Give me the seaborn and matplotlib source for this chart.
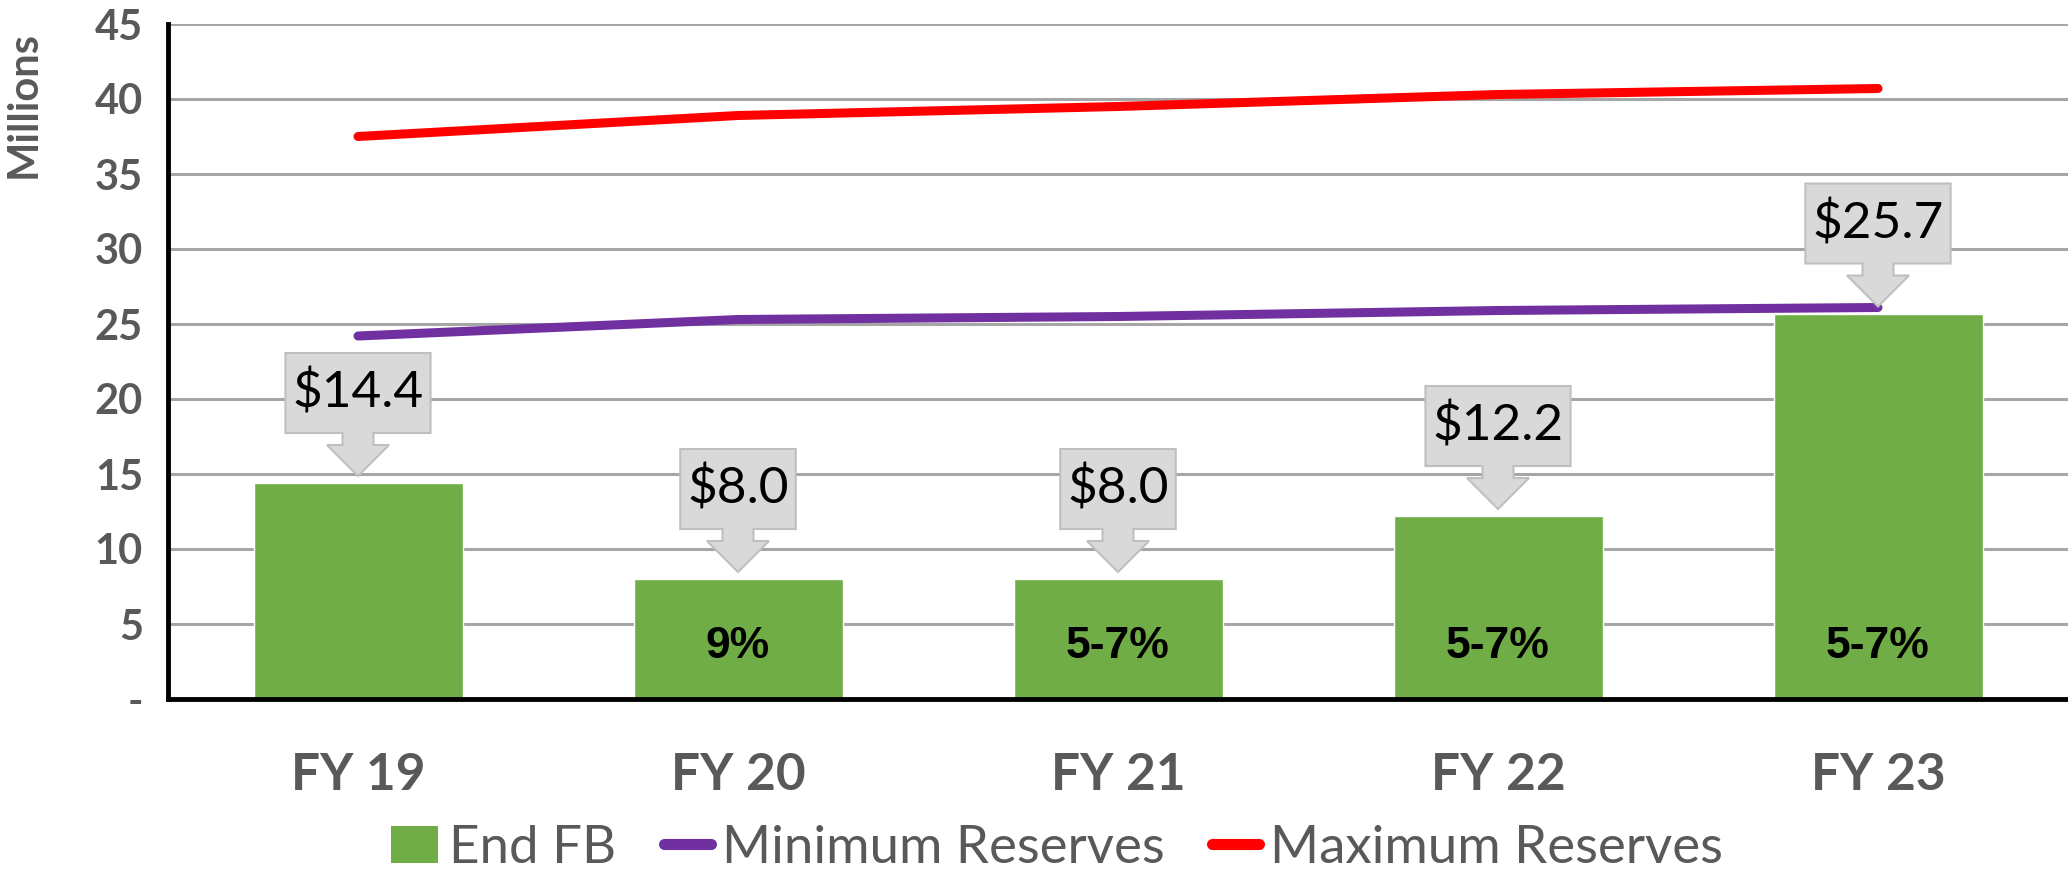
import matplotlib
matplotlib.use("Agg")
import matplotlib.pyplot as plt
import numpy as np
import pandas as pd
import seaborn as sns
from matplotlib.patches import Polygon, Patch
from matplotlib.lines import Line2D

years = ["FY 19", "FY 20", "FY 21", "FY 22", "FY 23"]
end_fb = [14.4, 8.0, 8.0, 12.2, 25.7]
min_reserves = [24.2, 25.3, 25.5, 25.9, 26.1]
max_reserves = [37.5, 38.9, 39.5, 40.3, 40.7]
fb_labels = ["$14.4", "$8.0", "$8.0", "$12.2", "$25.7"]
pct_labels = ["", "9%", "5-7%", "5-7%", "5-7%"]
y_ticks = [0, 5, 10, 15, 20, 25, 30, 35, 40, 45]
y_ticklabels = ["-", "5", "10", "15", "20", "25", "30", "35", "40", "45"]

GREEN = "#70AD47"
PURPLE = "#7030A0"
RED = "#FF0000"
GREY_TXT = "#595959"

sns.set_style("white")
plt.rcParams["font.family"] = ["Lato", "DejaVu Sans"]

df = pd.DataFrame({"year": years, "fb": end_fb,
                   "min": min_reserves, "max": max_reserves})

fig = plt.figure(figsize=(20.68, 8.69), dpi=100)
ax = fig.add_axes([168 / 2068, 1 - 699 / 869, 1 - 168 / 2068, 675 / 869])

sns.barplot(data=df, x="year", y="fb", color=GREEN, saturation=1,
            width=0.55, ax=ax, zorder=2)
sns.lineplot(data=df, x="year", y="min", color=PURPLE, linewidth=6.5,
             solid_capstyle="round", ax=ax, zorder=3)
sns.lineplot(data=df, x="year", y="max", color=RED, linewidth=6.5,
             solid_capstyle="round", ax=ax, zorder=3)

ax.set_xlim(-0.5, 4.5)
ax.set_ylim(0, 45)
ax.set_yticks(y_ticks)
ax.set_yticklabels(y_ticklabels)
ax.grid(axis="y", color="#A6A6A6", linewidth=2.2, zorder=0)
ax.set_axisbelow(True)
for s in ["top", "right"]:
    ax.spines[s].set_visible(False)
for s in ["left", "bottom"]:
    ax.spines[s].set_color("black")
    ax.spines[s].set_linewidth(3.5)
ax.tick_params(axis="both", length=0)
ax.tick_params(axis="y", labelsize=30, labelcolor=GREY_TXT, pad=18)
ax.tick_params(axis="x", labelsize=37, labelcolor=GREY_TXT, pad=38)
for lab in ax.get_xticklabels() + ax.get_yticklabels():
    lab.set_fontweight("bold")
ax.set_xlabel("")
ax.set_ylabel("")
fig.text(24 / 2068, 1 - 105 / 869, "Millions", rotation=90, ha="center",
         va="center", fontsize=30, fontweight="bold", color=GREY_TXT)

# percentage text inside the bars
for i, t in enumerate(pct_labels):
    if t:
        ax.text(i, 3.5, t, ha="center", va="center", fontsize=32,
                fontweight="bold", color="black",
                family=["Liberation Sans Narrow", "Liberation Sans"], zorder=4)

# callout boxes above bars
renderer = fig.canvas.get_renderer()
to_px = ax.transData.transform
to_data = ax.transData.inverted().transform
for i, (val, lab) in enumerate(zip(end_fb, fb_labels)):
    cx, ty = to_px((i, val))
    tip = ty + 7
    txt = ax.text(i, val, lab, fontsize=37, color="black",
                  ha="center", va="center", zorder=6)
    tw = txt.get_window_extent(renderer).width
    w = tw + 14
    b = tip + 43
    top = tip + 123
    verts = [(cx - w / 2, b), (cx - 15.5, b), (cx - 15.5, tip + 31),
             (cx - 31, tip + 31), (cx, tip), (cx + 31, tip + 31),
             (cx + 15.5, tip + 31), (cx + 15.5, b), (cx + w / 2, b),
             (cx + w / 2, top), (cx - w / 2, top)]
    poly = Polygon(to_data(np.array(verts)), closed=True, facecolor="#D9D9D9",
                   edgecolor="#BFBFBF", linewidth=1.5, zorder=5)
    ax.add_patch(poly)
    txt.set_position(to_data((cx, (b + top) / 2)))

if ax.get_legend():
    ax.get_legend().remove()
handles = [Patch(facecolor=GREEN, edgecolor="none", label="End FB"),
           Line2D([], [], color=PURPLE, linewidth=8, solid_capstyle="round",
                  label="Minimum Reserves"),
           Line2D([], [], color=RED, linewidth=8, solid_capstyle="round",
                  label="Maximum Reserves")]
fig.legend(handles=handles, loc="center", bbox_to_anchor=(0.511, 0.024),
           ncol=3, frameon=False, fontsize=38, labelcolor=GREY_TXT,
           handlelength=0.9, handletextpad=0.2, columnspacing=0.9,
           borderaxespad=0, borderpad=0)

fig.savefig("out.png", dpi=100)
